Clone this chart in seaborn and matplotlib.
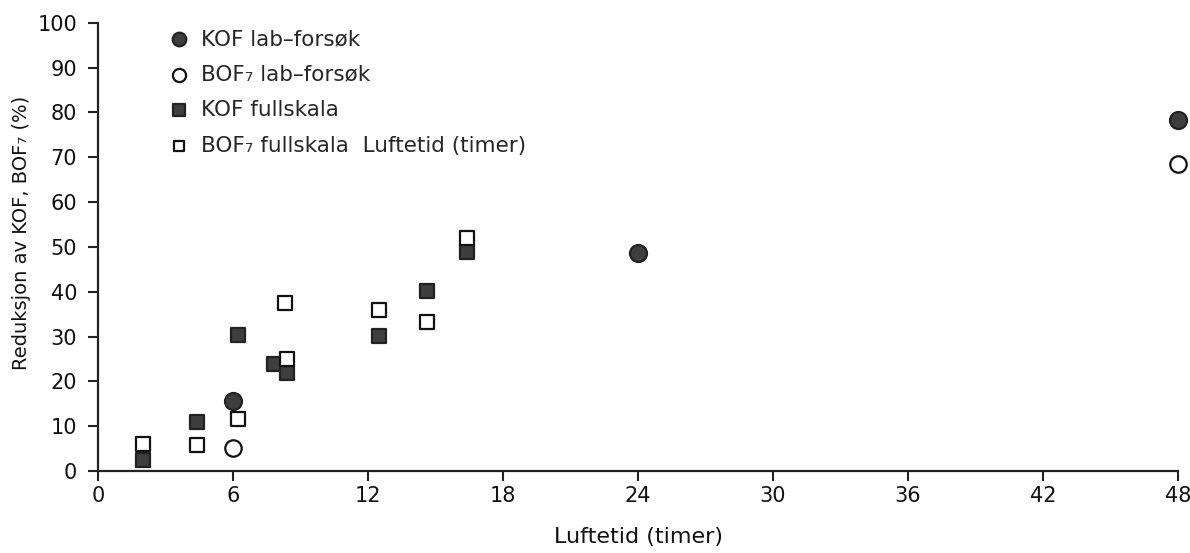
import matplotlib
matplotlib.use("Agg")
import matplotlib.pyplot as plt
import seaborn as sns
import pandas as pd

# Data
kof_lab_x = [6, 24, 48]
kof_lab_y = [15.6, 48.6, 78.2]
bof_lab_x = [6, 48]
bof_lab_y = [5.1, 68.4]
kof_full_x = [2, 4.4, 6.2, 7.8, 8.4, 12.5, 14.6, 16.4]
kof_full_y = [2.5, 10.9, 30.3, 24.0, 21.8, 30.1, 40.1, 48.8]
bof_full_x = [2, 4.4, 6.2, 8.3, 8.4, 12.5, 14.6, 16.4]
bof_full_y = [6.0, 5.8, 11.6, 37.4, 25.0, 36.0, 33.2, 51.9]

series_names = ["KOF lab\u2013forsøk", "BOF\u2087 lab\u2013forsøk",
                "KOF fullskala", "BOF\u2087 fullskala  Luftetid (timer)"]
x_ticks = [0, 6, 12, 18, 24, 30, 36, 42, 48]
y_ticks = [0, 10, 20, 30, 40, 50, 60, 70, 80, 90, 100]

frames = []
for name, xs, ys in zip(series_names,
                        [kof_lab_x, bof_lab_x, kof_full_x, bof_full_x],
                        [kof_lab_y, bof_lab_y, kof_full_y, bof_full_y]):
    frames.append(pd.DataFrame({"x": xs, "y": ys, "serie": name}))
df = pd.concat(frames, ignore_index=True)

sns.set_style("white")
plt.rcParams['font.family'] = ['DejaVu Sans']

fig = plt.figure(figsize=(11.9, 5.53), dpi=100)
ax = fig.add_axes([0.0824, 0.148, 0.9076, 0.811])

styles = {
    series_names[0]: dict(marker="o", s=150, facecolor="#3e3e3e", edgecolor="#222222"),
    series_names[1]: dict(marker="o", s=140, facecolor="white", edgecolor="#111111"),
    series_names[2]: dict(marker="s", s=100, facecolor="#3e3e3e", edgecolor="#222222"),
    series_names[3]: dict(marker="s", s=95, facecolor="white", edgecolor="#111111"),
}
for name in series_names:
    st = styles[name]
    sub = df[df["serie"] == name]
    sns.scatterplot(data=sub, x="x", y="y", ax=ax, marker=st["marker"], s=st["s"],
                    color=st["facecolor"], edgecolor=st["edgecolor"], linewidth=1.6,
                    label=name, zorder=3, clip_on=False)

ax.set_xlim(0, 48)
ax.set_ylim(0, 100)
ax.set_xticks(x_ticks)
ax.set_yticks(y_ticks)
ax.spines["top"].set_visible(False)
ax.spines["right"].set_visible(False)
for sp in ["left", "bottom"]:
    ax.spines[sp].set_linewidth(1.6)
    ax.spines[sp].set_color("#222222")
ax.tick_params(axis="both", direction="out", length=7, width=1.5, colors="#222222",
               labelsize=15, labelcolor="#111111", left=True, bottom=True)
ax.tick_params(axis="y", pad=8)
ax.tick_params(axis="x", pad=4)
ax.set_xlabel("Luftetid (timer)", fontsize=16, color="#111111")
ax.xaxis.set_label_coords(0.5, -0.124)
ax.set_ylabel("Reduksjon av KOF, BOF\u2087 (%)", fontsize=14, color="#111111")
ax.yaxis.set_label_coords(-0.062, 0.532)

ax.legend(loc="upper left", bbox_to_anchor=(0.052, 1.005), frameon=False, fontsize=15.5,
          labelspacing=0.72, handletextpad=0.25, handlelength=1.5, borderaxespad=0,
          markerscale=0.8)

fig.savefig("out.png", dpi=100)
